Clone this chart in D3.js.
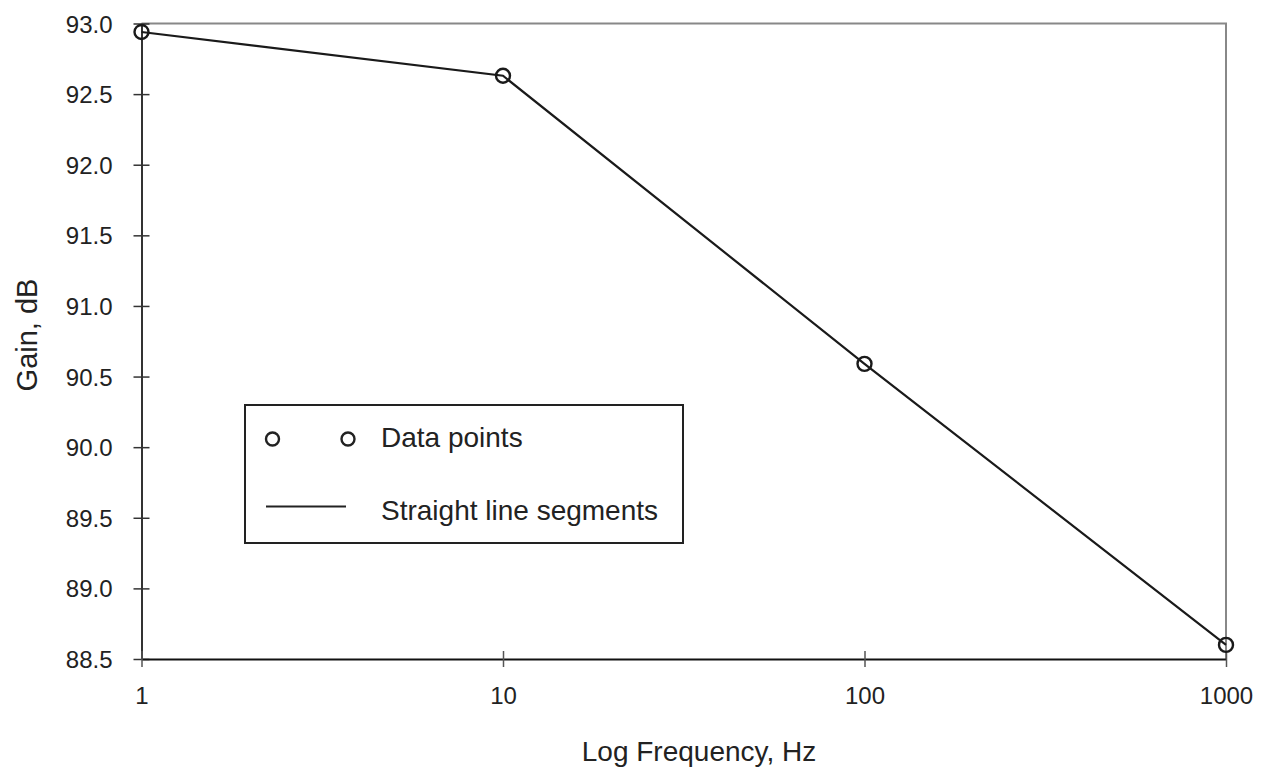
<!DOCTYPE html>
<html>
<head>
<meta charset="utf-8">
<script src="https://cdn.jsdelivr.net/npm/d3@7"></script>
<style>
  body { margin: 0; background: #fff; }
  text { font-family: "Liberation Sans", Arial, sans-serif; fill: #222; }
</style>
</head>
<body>
<div id="chart"></div>
<script>
// frequencies (Hz) and measured gain (dB)
const frequencies = [1, 10, 100, 1000];
const gains = [92.94, 92.63, 90.59, 88.60];
const yTicks = [88.5, 89.0, 89.5, 90.0, 90.5, 91.0, 91.5, 92.0, 92.5, 93.0];
const xTicks = [1, 10, 100, 1000];
const legendLabels = ['Data points', 'Straight line segments'];

const width = 1269, height = 774;
const margin = { top: 23.5, right: 43, bottom: 115, left: 141.5 };
const innerW = width - margin.left - margin.right;
const innerH = height - margin.top - margin.bottom;
const font = '"Liberation Sans", Arial, sans-serif';

const svg = d3.select('#chart').append('svg')
  .attr('width', width)
  .attr('height', height);

const g = svg.append('g')
  .attr('transform', `translate(${margin.left}, ${margin.top})`);

const xScale = d3.scaleLog().domain([1, 1000]).range([0, innerW]);
const yScale = d3.scaleLinear().domain([88.5, 93.0]).range([innerH, 0]);

// top and right frame (grey)
g.append('path')
  .attr('d', `M0,0H${innerW}V${innerH}`)
  .attr('fill', 'none')
  .attr('stroke', '#888')
  .attr('stroke-width', 2);

// y axis
const yAxis = g.append('g')
  .call(d3.axisLeft(yScale).tickValues(yTicks).tickFormat(d3.format('.1f')).tickSize(8).tickSizeOuter(0));
yAxis.select('.domain').attr('stroke', '#333').attr('stroke-width', 2);
yAxis.selectAll('.tick line').attr('x2', 8).attr('x1', -8).attr('stroke', '#333').attr('stroke-width', 1.5);
yAxis.selectAll('.tick text')
  .attr('x', -29)
  .attr('dy', 0)
  .attr('y', 8.5)
  .style('font-size', '24px')
  .style('font-family', font)
  .attr('fill', '#1a1a1a');

// x axis
const xAxis = g.append('g')
  .attr('transform', `translate(0, ${innerH})`)
  .call(d3.axisBottom(xScale).tickValues(xTicks).tickFormat(d3.format('d')).tickSize(8).tickSizeOuter(0));
xAxis.select('.domain').attr('stroke', '#111').attr('stroke-width', 2);
xAxis.selectAll('.tick line').attr('y1', -8).attr('y2', 8).attr('stroke', '#555').attr('stroke-width', 1.5);
xAxis.selectAll('.tick text')
  .attr('y', 45)
  .attr('dy', 0)
  .style('font-size', '24px')
  .style('font-family', font)
  .attr('fill', '#1a1a1a');

// axis titles
svg.append('text')
  .attr('x', 699)
  .attr('y', 761)
  .attr('text-anchor', 'middle')
  .style('font-size', '28px')
  .text('Log Frequency, Hz');

svg.append('text')
  .attr('transform', 'translate(37, 335) rotate(-90)')
  .attr('text-anchor', 'middle')
  .style('font-size', '29px')
  .text('Gain, dB');

// line segments
const points = frequencies.map((f, i) => ({ f, v: gains[i] }));
const line = d3.line().x(d => xScale(d.f)).y(d => yScale(d.v));

g.append('path')
  .datum(points)
  .attr('d', line)
  .attr('fill', 'none')
  .attr('stroke', '#1a1a1a')
  .attr('stroke-width', 2.2);

g.selectAll('circle.pt')
  .data(points)
  .enter()
  .append('circle')
  .attr('class', 'pt')
  .attr('cx', d => xScale(d.f))
  .attr('cy', d => yScale(d.v))
  .attr('r', 7)
  .attr('fill', 'none')
  .attr('stroke', '#1a1a1a')
  .attr('stroke-width', 2.4);

// legend
const legend = svg.append('g').attr('transform', 'translate(245, 405)');
legend.append('rect')
  .attr('width', 438)
  .attr('height', 138)
  .attr('fill', '#fff')
  .attr('stroke', '#222')
  .attr('stroke-width', 2);

[27.5, 103].forEach(cx => {
  legend.append('circle')
    .attr('cx', cx)
    .attr('cy', 34)
    .attr('r', 6.5)
    .attr('fill', 'none')
    .attr('stroke', '#222')
    .attr('stroke-width', 2.4);
});
legend.append('line')
  .attr('x1', 21).attr('x2', 101)
  .attr('y1', 101.5).attr('y2', 101.5)
  .attr('stroke', '#222')
  .attr('stroke-width', 2);

legend.selectAll('text.lab')
  .data(legendLabels)
  .enter()
  .append('text')
  .attr('class', 'lab')
  .attr('x', 136)
  .attr('y', (d, i) => 42 + i * 73)
  .style('font-size', '28px')
  .text(d => d);
</script>
</body>
</html>
